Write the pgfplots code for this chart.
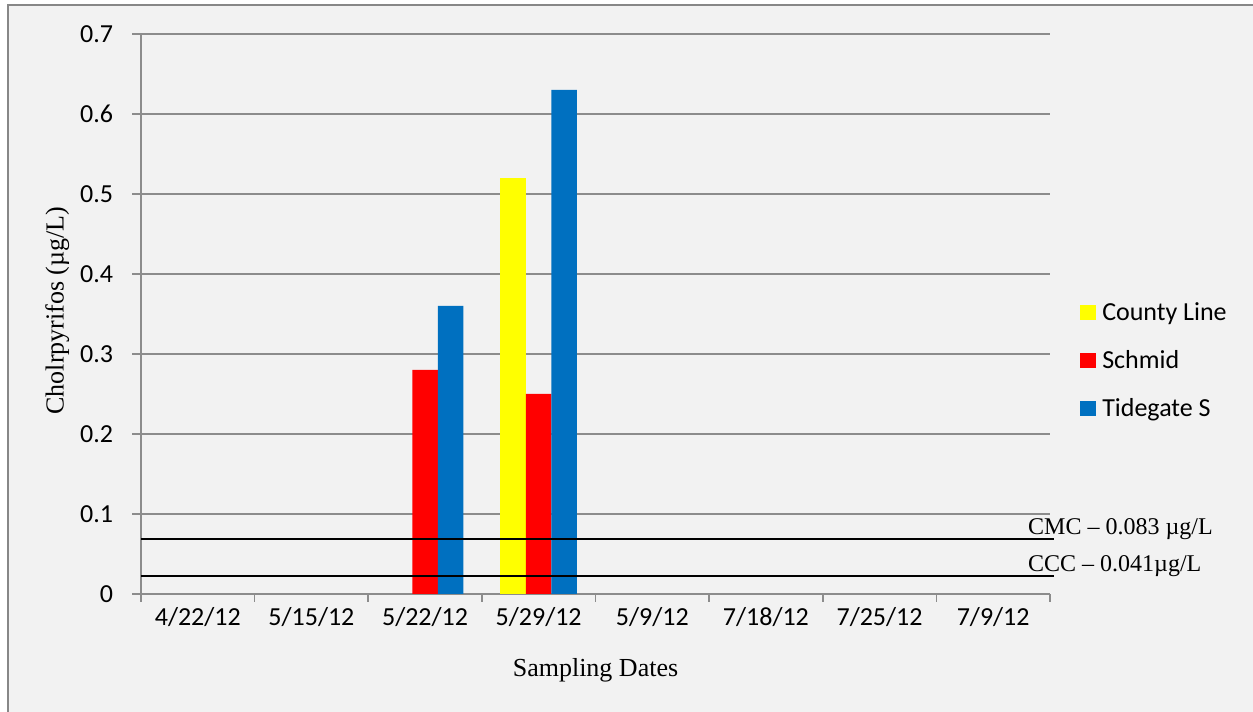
\documentclass[border=0pt]{standalone}
\usepackage{pgfplots}
\pgfplotsset{compat=1.18}
\usepackage{fontspec}
\setmainfont{Liberation Serif}
\newfontfamily\calfont{Carlito}
\definecolor{bgc}{HTML}{F2F2F2}
\definecolor{framec}{HTML}{878787}
\definecolor{gridc}{HTML}{8C8C8C}
\definecolor{cyel}{HTML}{FFFF00}
\definecolor{cred}{HTML}{FF0000}
\definecolor{cblu}{HTML}{0070C0}
\pgfplotsset{sq legend/.style={legend image code/.code={\fill[##1] (0pt,0pt) rectangle (12pt,11.25pt);}}}
\begin{document}
\begin{tikzpicture}[x=0.75pt,y=0.75pt]
\useasboundingbox (0,0) rectangle (1253,712);
\fill[white] (0,0) rectangle (1253,712);
\fill[bgc] (8,0) rectangle (1253,707);
\draw[framec, line width=1.6pt] (8,0) -- (8,707) -- (1253,707);
\begin{axis}[
  at={(105.75pt,88.5pt)}, anchor=south west,
  scale only axis, width=681.75pt, height=420pt,
  xmin=-0.5, xmax=7.5, ymin=0, ymax=0.7,
  ybar, bar width=0.2244,
  clip=false,
  axis x line*=bottom, axis y line*=left,
  axis line style={gridc, line width=1.2pt},
  ytick={0,0.1,0.2,0.3,0.4,0.5,0.6,0.7},
  yticklabels={0,0.1,0.2,0.3,0.4,0.5,0.6,0.7},
  xtick={0,1,2,3,4,5,6,7},
  xticklabels={4/22/12,5/15/12,5/22/12,5/29/12,5/9/12,7/18/12,7/25/12,7/9/12},
  minor xtick={-0.5,0.5,1.5,2.5,3.5,4.5,5.5,6.5,7.5},
  tick align=outside,
  major tick length=6.75pt, minor tick length=6pt,
  every tick/.style={gridc, line width=1.2pt},
  major x tick style={draw=none},
  ymajorgrids, grid style={gridc, line width=1.2pt},
  ticklabel style={font=\calfont\fontsize{19.5}{23}\selectfont},
  yticklabel style={anchor=east, inner sep=0pt, xshift=-14pt},
  xticklabel style={anchor=base, inner sep=0pt, yshift=-17pt},
  xlabel={Sampling Dates},
  ylabel={Cholrpyrifos (µg/L)},
  label style={font=\fontsize{19.5}{23}\selectfont},
  xlabel style={at={(axis description cs:0.5,-0.1477)}, anchor=base},
  ylabel style={at={(axis description cs:-0.0850,0.506)}, anchor=base},
  legend style={at={(axis description cs:1.033,0.5227)}, anchor=north west,
    draw=none, fill=none, inner sep=0pt, column sep=4.5pt, row sep=18pt,
    font=\calfont\fontsize{19.5}{23}\selectfont,
    nodes={inner sep=0pt, text height=14pt, text depth=4pt},
    cells={anchor=base west}},
]
% bars: County Line, Schmid, Tidegate S
\addplot[fill=cyel, draw=none, bar shift=-0.2244, sq legend] coordinates {(3,0.52)};
\addlegendentry{County Line}
\addplot[fill=cred, draw=none, bar shift=0, sq legend] coordinates {(2,0.28) (3,0.25)};
\addlegendentry{Schmid}
\addplot[fill=cblu, draw=none, bar shift=0.2244, sq legend] coordinates {(2,0.36) (3,0.63)};
\addlegendentry{Tidegate S}
% criterion lines
\addplot[sharp plot, black, line width=1.9pt, forget plot] coordinates {(-0.5,0.069) (7.535,0.069)};
\addplot[sharp plot, black, line width=1.9pt, forget plot] coordinates {(-0.5,0.0225) (7.535,0.0225)};
\node[anchor=base west, inner sep=0pt, font=\fontsize{18}{21}\selectfont] at (axis cs:7.306,0.0738) {CMC – 0.083 µg/L};
\node[anchor=base west, inner sep=0pt, font=\fontsize{18}{21}\selectfont] at (axis cs:7.306,0.0279) {CCC – 0.041µg/L};
\end{axis}
\end{tikzpicture}
\end{document}
